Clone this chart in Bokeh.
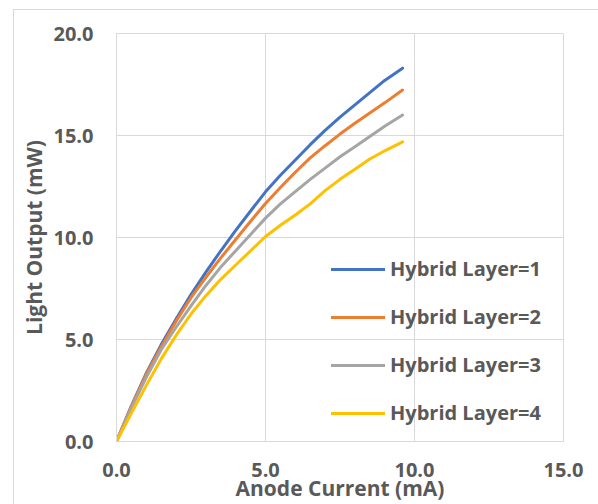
from bokeh.plotting import figure
from bokeh.models import Range1d, FixedTicker, PrintfTickFormatter, Legend, LegendItem, InlineStyleSheet
from bokeh.embed import file_html
from bokeh.resources import INLINE

anode_current = [0, 0.5, 1.0, 1.5, 2.0, 2.5, 3.0, 3.5, 4.0, 4.5, 5.0, 5.5, 6.0, 6.5, 7.0, 7.5, 8.0, 8.5, 9.0, 9.6]
layer1 = [0, 1.75, 3.35, 4.75, 6.0, 7.2, 8.3, 9.35, 10.35, 11.3, 12.24, 13.05, 13.8, 14.55, 15.25, 15.9, 16.5, 17.1, 17.7, 18.3]
layer2 = [0, 1.72, 3.3, 4.65, 5.9, 7.05, 8.05, 9.0, 9.9, 10.8, 11.67, 12.45, 13.2, 13.9, 14.5, 15.07, 15.6, 16.1, 16.6, 17.23]
layer3 = [0, 1.65, 3.15, 4.5, 5.6, 6.65, 7.65, 8.55, 9.35, 10.15, 10.95, 11.65, 12.25, 12.85, 13.4, 13.96, 14.45, 14.95, 15.45, 16.0]
layer4 = [0, 1.4, 2.75, 4.05, 5.2, 6.25, 7.15, 7.95, 8.65, 9.35, 10.05, 10.6, 11.1, 11.65, 12.3, 12.85, 13.35, 13.85, 14.25, 14.69]

series_names = ["Hybrid Layer=1", "Hybrid Layer=2", "Hybrid Layer=3", "Hybrid Layer=4"]
series_colors = ["#4472C4", "#ED7D31", "#A5A5A5", "#FFC000"]
x_ticks = [0, 5, 10, 15]
y_ticks = [0, 5, 10, 15, 20]

FONT = "Open Sans"
TXT = "#595959"
GRID = "#d9d9d9"

border_css = InlineStyleSheet(css=":host { border-top: 1px solid #d9d9d9; border-left: 1px solid #d9d9d9; }")

p = figure(width=585, height=495, output_backend="svg", toolbar_location=None,
           x_range=Range1d(0, 15), y_range=Range1d(0, 20),
           min_border_left=102, min_border_top=23, min_border_right=36, min_border_bottom=64,
           margin=(9, 0, 0, 13), stylesheets=[border_css])
p.background_fill_color = "white"
p.border_fill_color = "white"
p.outline_line_color = GRID

items = []
for ys, name, col in zip([layer1, layer2, layer3, layer4], series_names, series_colors):
    r = p.line(anode_current, ys, line_color=col, line_width=3, line_join="round", line_cap="round")
    items.append(LegendItem(label=name, renderers=[r]))

for ax, ticks in ((p.xaxis, x_ticks), (p.yaxis, y_ticks)):
    ax.ticker = FixedTicker(ticks=ticks)
    ax.formatter = PrintfTickFormatter(format="%.1f")
    ax.major_tick_out = 0
    ax.major_tick_in = 0
    ax.minor_tick_out = 0
    ax.minor_tick_in = 0
    ax.axis_line_color = GRID
    ax.major_label_text_font = FONT
    ax.major_label_text_font_style = "bold"
    ax.major_label_text_font_size = "20px"
    ax.major_label_text_color = TXT
    ax.axis_label_text_font = FONT
    ax.axis_label_text_font_style = "bold"
    ax.axis_label_text_font_size = "21px"
    ax.axis_label_text_color = TXT

p.xaxis.axis_label = "Anode Current (mA)"
p.yaxis.axis_label = "Light Output (mW)"
p.xaxis.major_label_standoff = 21
p.yaxis.major_label_standoff = 23
p.xaxis.axis_label_standoff = -6
p.yaxis.axis_label_standoff = 2

p.xgrid.ticker = FixedTicker(ticks=x_ticks)
p.ygrid.ticker = FixedTicker(ticks=y_ticks)
p.grid.grid_line_color = GRID
p.grid.grid_line_width = 1

legend = Legend(items=items, location=(215, 15))
legend.background_fill_alpha = 0
legend.border_line_color = None
legend.padding = 0
legend.margin = 0
legend.spacing = 21
legend.glyph_width = 54
legend.glyph_height = 20
legend.label_height = 20
legend.label_standoff = 5
legend.label_text_font = FONT
legend.label_text_font_style = "bold"
legend.label_text_font_size = "20px"
legend.label_text_color = TXT
p.add_layout(legend)

open("out.html", "w").write(file_html(p, INLINE))
